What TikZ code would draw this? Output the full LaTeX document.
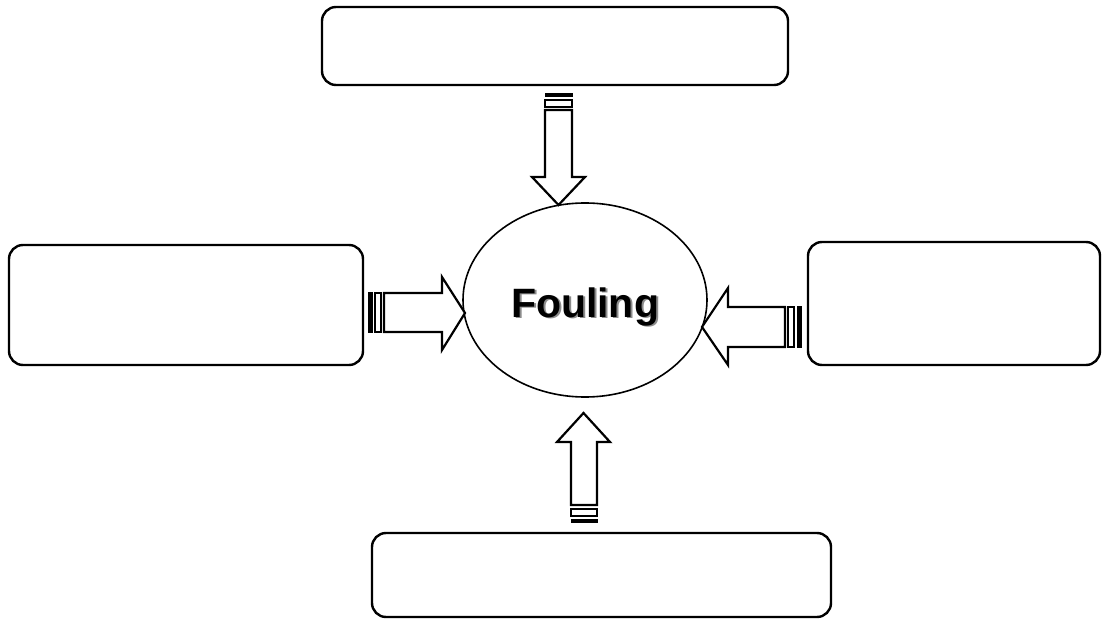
\documentclass[tikz,border=0pt]{standalone}
\usepackage{fontspec}
\newfontfamily\labelfont{Liberation Sans}
\usetikzlibrary{shapes.geometric}

\tikzset{
  textbox/.style={draw=black, line width=2.4pt, rounded corners=14pt, fill=white, inner sep=0pt},
  hub/.style={draw=black, ellipse, line width=1.6pt, inner sep=0pt, fill=white},
  blockarrow/.style={draw=black, line width=2.2pt, fill=white, line join=miter},
  widestripe/.style={draw=black, line width=1.8pt, fill=white},
  thinstripe/.style={draw=black, line width=1pt, fill=black},
}

\begin{document}
\begin{tikzpicture}[x=1pt, y=-1pt]
  \useasboundingbox (0,0) rectangle (1111,620);

  % outer boxes
  \node[textbox, minimum width=466pt, minimum height=78pt]  (top)    at (555,46)    {};
  \node[textbox, minimum width=354pt, minimum height=120pt] (left)   at (186,305)   {};
  \node[textbox, minimum width=292pt, minimum height=123pt] (right)  at (954,303.5) {};
  \node[textbox, minimum width=459pt, minimum height=84pt]  (bottom) at (601.5,575) {};

  % central ellipse
  \node[hub, minimum width=244pt, minimum height=194pt] (fouling) at (585,300) {};

  % label with a soft gray shadow
  \node[anchor=base, inner sep=0pt, text=black!45] at (587,319)
    {\labelfont\bfseries\fontsize{41}{41}\selectfont Fouling};
  \node[anchor=base, inner sep=0pt] (label) at (585,317)
    {\labelfont\bfseries\fontsize{41}{41}\selectfont Fouling};

  % striped block arrow from the top box (pointing down)
  \draw[blockarrow] (545,110) -- (545,177) -- (532,177) -- (558.5,205)
    -- (585,177) -- (572,177) -- (572,110) -- cycle;
  \draw[widestripe] (545,100) rectangle (572,107);
  \draw[thinstripe] (545,94) rectangle (572,97);

  % striped block arrow from the left box (pointing right)
  \draw[blockarrow] (384,293) -- (442,293) -- (442,277) -- (465,313)
    -- (442,350) -- (442,332) -- (384,332) -- cycle;
  \draw[widestripe] (375,293) rectangle (381,332);
  \draw[thinstripe] (368,293) rectangle (372,332);

  % striped block arrow from the right box (pointing left)
  \draw[blockarrow] (785,307) -- (728,307) -- (728,288) -- (702,327)
    -- (728,365) -- (728,347) -- (785,347) -- cycle;
  \draw[widestripe] (788,307) rectangle (794,347);
  \draw[thinstripe] (797,307) rectangle (801,347);

  % striped block arrow from the bottom box (pointing up)
  \draw[blockarrow] (571,505) -- (571,442) -- (557,442) -- (583.5,413)
    -- (610,442) -- (597,442) -- (597,505) -- cycle;
  \draw[widestripe] (571,509) rectangle (597,516);
  \draw[thinstripe] (571,519) rectangle (597,522);
\end{tikzpicture}
\end{document}
